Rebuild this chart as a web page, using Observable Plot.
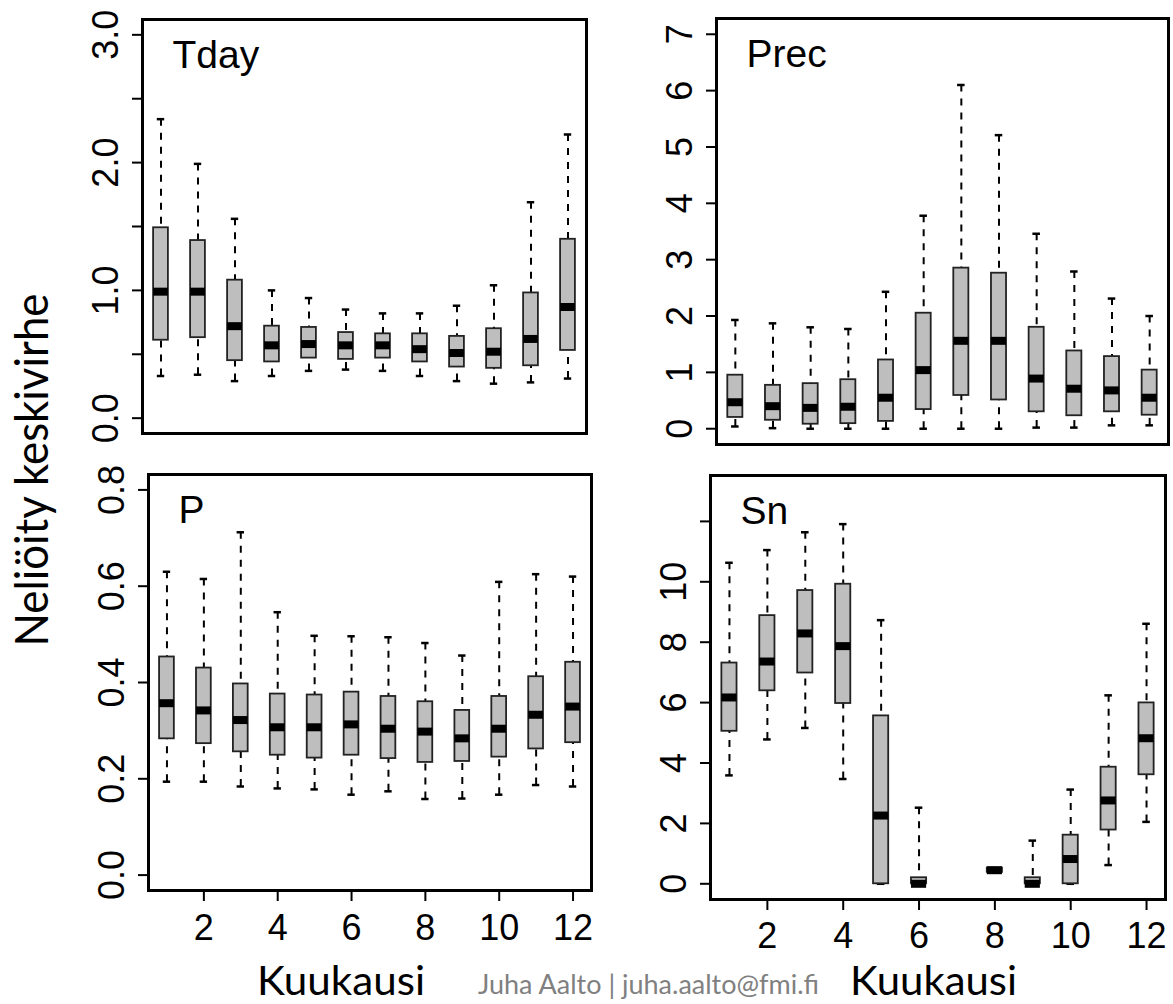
<!DOCTYPE html>
<html>
<head>
<meta charset="utf-8">
<script src="https://cdn.jsdelivr.net/npm/d3@7"></script>
<script src="https://cdn.jsdelivr.net/npm/@observablehq/plot@0.6"></script>
<style>
  html, body { margin: 0; padding: 0; background: #fff; }
  #chart { position: relative; width: 1173px; height: 1004px; overflow: hidden; }
  #chart > svg { position: absolute; }
</style>
</head>
<body>
<div id="chart"></div>
<script>
// Monthly distributions of the squared standard error, one panel per variable.
const months = [1, 2, 3, 4, 5, 6, 7, 8, 9, 10, 11, 12];
const xTicks = [2, 4, 6, 8, 10, 12];

// Tday
const tdayLow = [0.33, 0.34, 0.29, 0.33, 0.37, 0.38, 0.37, 0.33, 0.29, 0.27, 0.28, 0.31];
const tdayQ1  = [0.61, 0.63, 0.45, 0.44, 0.47, 0.46, 0.47, 0.44, 0.40, 0.39, 0.41, 0.53];
const tdayMed = [0.99, 0.99, 0.72, 0.57, 0.58, 0.57, 0.57, 0.54, 0.51, 0.52, 0.62, 0.87];
const tdayQ3  = [1.49, 1.39, 1.08, 0.72, 0.71, 0.67, 0.66, 0.66, 0.64, 0.70, 0.98, 1.40];
const tdayHigh = [2.34, 1.99, 1.56, 1.00, 0.94, 0.85, 0.82, 0.82, 0.88, 1.04, 1.69, 2.22];
const tdayTicks = [0, 0.5, 1, 1.5, 2, 2.5, 3];
const tdayTickLabels = ["0.0", "", "1.0", "", "2.0", "", "3.0"];

// Prec
const precLow = [0.04, 0.01, 0.0, 0.0, 0.0, 0.0, 0.0, 0.0, 0.02, 0.02, 0.06, 0.06];
const precQ1  = [0.20, 0.15, 0.08, 0.09, 0.13, 0.34, 0.59, 0.51, 0.30, 0.23, 0.30, 0.24];
const precMed = [0.47, 0.40, 0.37, 0.39, 0.55, 1.04, 1.56, 1.56, 0.89, 0.71, 0.68, 0.55];
const precQ3  = [0.95, 0.77, 0.80, 0.87, 1.22, 2.05, 2.85, 2.76, 1.80, 1.38, 1.28, 1.04];
const precHigh = [1.93, 1.87, 1.80, 1.77, 2.43, 3.78, 6.10, 5.21, 3.46, 2.79, 2.31, 2.00];
const precTicks = [0, 1, 2, 3, 4, 5, 6, 7];
const precTickLabels = ["0", "1", "2", "3", "4", "5", "6", "7"];

// P
const pLow = [0.194, 0.194, 0.184, 0.180, 0.178, 0.167, 0.174, 0.158, 0.159, 0.167, 0.187, 0.184];
const pQ1  = [0.283, 0.273, 0.256, 0.249, 0.243, 0.249, 0.242, 0.234, 0.236, 0.245, 0.262, 0.275];
const pMed = [0.357, 0.342, 0.322, 0.307, 0.307, 0.313, 0.304, 0.298, 0.284, 0.304, 0.333, 0.350];
const pQ3  = [0.453, 0.430, 0.397, 0.376, 0.374, 0.380, 0.371, 0.360, 0.342, 0.371, 0.412, 0.442];
const pHigh = [0.630, 0.615, 0.712, 0.546, 0.497, 0.496, 0.494, 0.482, 0.456, 0.609, 0.625, 0.620];
const pTicks = [0, 0.2, 0.4, 0.6, 0.8];
const pTickLabels = ["0.0", "0.2", "0.4", "0.6", "0.8"];

// Sn (no data for July)
const snLow = [3.59, 4.78, 5.16, 3.47, 0, 0, null, 0.38, 0, 0, 0.62, 2.05];
const snQ1  = [5.05, 6.39, 6.98, 5.97, 0, 0, null, 0.38, 0, 0, 1.78, 3.61];
const snMed = [6.17, 7.36, 8.29, 7.87, 2.26, 0, null, 0.45, 0, 0.82, 2.76, 4.82];
const snQ3  = [7.31, 8.88, 9.71, 9.92, 5.56, 0.2, null, 0.52, 0.2, 1.61, 3.86, 5.99];
const snHigh = [10.63, 11.05, 11.64, 11.91, 8.73, 2.52, null, 0.52, 1.43, 3.12, 6.24, 8.61];
const snTicks = [0, 2, 4, 6, 8, 10, 12];
const snTickLabels = ["0", "2", "4", "6", "8", "10", ""];

const yTitle = "Neliöity keskivirhe";
const xTitle = "Kuukausi";
const credit = "Juha Aalto | juha.aalto@fmi.fi";

function rowsOf(lo, q1, med, q3, hi) {
  return months
    .map((m, i) => ({month: m, lo: lo[i], q1: q1[i], med: med[i], q3: q3[i], hi: hi[i]}))
    .filter((d) => d.med != null);
}

const BOX = 0.2;   // half box width, in months
const CAP = 0.1;   // half whisker-cap width
const chart = document.getElementById("chart");

function panel({name, rows, yDomain, ticks, labels, frame, xAxis, xPad = 13}) {
  const mL = 80, mT = 12, mR = 8, mB = xAxis ? 70 : 12;
  const fw = frame.right - frame.left, fh = frame.bottom - frame.top;
  const fmt = new Map(ticks.map((t, i) => [t, labels[i]]));
  const whisker = {stroke: "black", strokeWidth: 2, strokeDasharray: "7,7"};
  const marks = [
    Plot.ruleX(rows, {x: "month", y1: "hi", y2: "q3", ...whisker}),
    Plot.ruleX(rows, {x: "month", y1: "lo", y2: "q1", ...whisker}),
    Plot.ruleY(rows, {x1: (d) => d.month - CAP, x2: (d) => d.month + CAP, y: "hi", stroke: "black", strokeWidth: 2.5}),
    Plot.ruleY(rows, {x1: (d) => d.month - CAP, x2: (d) => d.month + CAP, y: "lo", stroke: "black", strokeWidth: 2.5}),
    Plot.rect(rows, {x1: (d) => d.month - BOX, x2: (d) => d.month + BOX, y1: "q1", y2: "q3",
      fill: "#bebebe", stroke: "#222", strokeWidth: 1.8}),
    Plot.ruleY(rows, {x1: (d) => d.month - BOX, x2: (d) => d.month + BOX, y: "med", stroke: "black", strokeWidth: 8}),
    Plot.axisY(ticks, {tickSize: 10, tickPadding: 15, tickRotate: -90, tickFormat: (d) => fmt.get(d),
      fontSize: 36, strokeWidth: 2, label: null}),
    Plot.text([name], {text: (d) => d, frameAnchor: "top-left", dx: 30, dy: 48,
      textAnchor: "start", lineAnchor: "bottom", fontSize: 39}),
    Plot.frame({stroke: "black", strokeWidth: 3})
  ];
  if (xAxis) {
    marks.push(Plot.axisX(xTicks, {tickSize: 11, tickPadding: xPad, fontSize: 36, strokeWidth: 2, label: null}));
  }
  const svg = Plot.plot({
    width: mL + fw + mR,
    height: mT + fh + mB,
    marginLeft: mL, marginTop: mT, marginRight: mR, marginBottom: mB,
    x: {domain: [0.5, 12.5], axis: xAxis ? undefined : null},
    y: {domain: yDomain},
    style: {fontFamily: "'Liberation Sans', Arial, sans-serif", fontSize: "36px", background: "transparent", overflow: "visible"},
    marks
  });
  svg.style.left = (frame.left - mL) + "px";
  svg.style.top = (frame.top - mT) + "px";
  chart.appendChild(svg);
}

panel({name: "Tday", rows: rowsOf(tdayLow, tdayQ1, tdayMed, tdayQ3, tdayHigh),
  yDomain: [-0.12, 3.12], ticks: tdayTicks, labels: tdayTickLabels,
  frame: {left: 142, right: 586, top: 19, bottom: 433}, xAxis: false});
panel({name: "Prec", rows: rowsOf(precLow, precQ1, precMed, precQ3, precHigh),
  yDomain: [-0.28, 7.28], ticks: precTicks, labels: precTickLabels,
  frame: {left: 716, right: 1168, top: 18, bottom: 444}, xAxis: false});
panel({name: "P", rows: rowsOf(pLow, pQ1, pMed, pQ3, pHigh),
  yDomain: [-0.032, 0.832], ticks: pTicks, labels: pTickLabels,
  frame: {left: 148, right: 591, top: 474, bottom: 890}, xAxis: true, xPad: 13});
panel({name: "Sn", rows: rowsOf(snLow, snQ1, snMed, snQ3, snHigh),
  yDomain: [-0.52, 13.52], ticks: snTicks, labels: snTickLabels,
  frame: {left: 710, right: 1165, top: 475, bottom: 899}, xAxis: true, xPad: 12});

// Shared axis titles and the credit line
const overlay = d3.select(chart).append("svg")
  .attr("width", 1173).attr("height", 1004)
  .style("left", "0px").style("top", "0px").style("pointer-events", "none")
  .style("font-family", "Lato, 'Open Sans', sans-serif");

overlay.append("text")
  .attr("transform", "translate(48,470) rotate(-90)")
  .attr("text-anchor", "middle").attr("font-size", 46)
  .attr("textLength", 353).attr("lengthAdjust", "spacingAndGlyphs")
  .text(yTitle);
overlay.append("text")
  .attr("x", 257).attr("y", 995).attr("font-size", 40)
  .attr("textLength", 168).attr("lengthAdjust", "spacingAndGlyphs")
  .text(xTitle);
overlay.append("text")
  .attr("x", 850).attr("y", 995).attr("font-size", 40)
  .attr("textLength", 167).attr("lengthAdjust", "spacingAndGlyphs")
  .text(xTitle);
overlay.append("text")
  .attr("x", 478).attr("y", 994).attr("font-size", 27).attr("fill", "#808080")
  .attr("textLength", 341).attr("lengthAdjust", "spacingAndGlyphs")
  .text(credit);
</script>
</body>
</html>
